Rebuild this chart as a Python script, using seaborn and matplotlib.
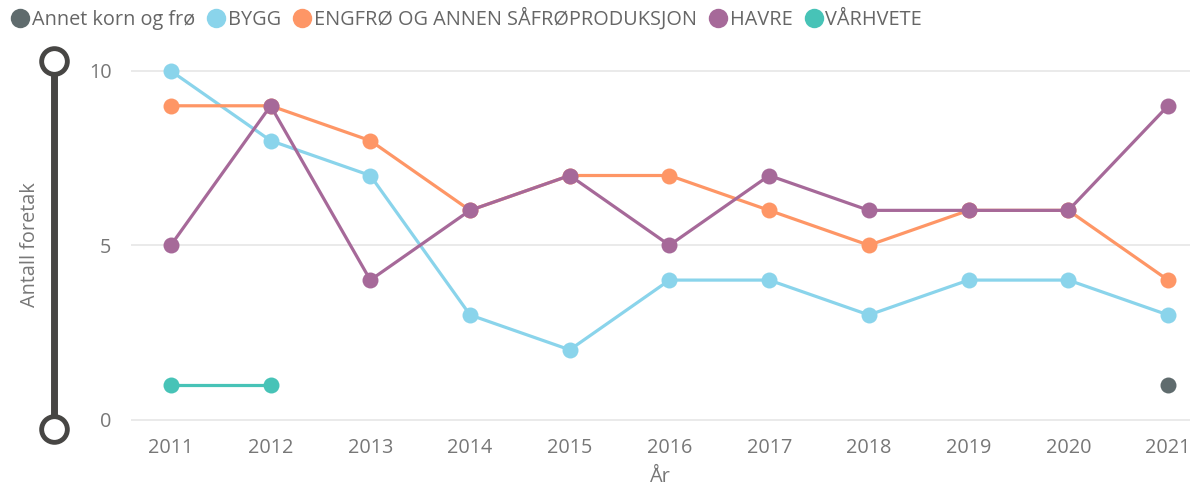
import pandas as pd
import matplotlib
matplotlib.use("Agg")
import matplotlib.pyplot as plt
from matplotlib.lines import Line2D
import seaborn as sns

years = [2011, 2012, 2013, 2014, 2015, 2016, 2017, 2018, 2019, 2020, 2021]
annet = {2021: 1}
bygg = [10, 8, 7, 3, 2, 4, 4, 3, 4, 4, 3]
engfro = [9, 9, 8, 6, 7, 7, 6, 5, 6, 6, 4]
havre = [5, 9, 4, 6, 7, 5, 7, 6, 6, 6, 9]
varhvete = {2011: 1, 2012: 1}

names = ["Annet korn og frø", "BYGG", "ENGFRØ OG ANNEN SÅFRØPRODUKSJON", "HAVRE", "VÅRHVETE"]
colors = ["#5F6B6D", "#8AD4EB", "#FE9666", "#A66999", "#47C3B7"]

rows = []
for y, v in annet.items():
    rows.append((names[0], y, v))
for y, v in zip(years, bygg):
    rows.append((names[1], y, v))
for y, v in zip(years, engfro):
    rows.append((names[2], y, v))
for y, v in zip(years, havre):
    rows.append((names[3], y, v))
for y, v in varhvete.items():
    rows.append((names[4], y, v))
df = pd.DataFrame(rows, columns=["serie", "aar", "antall"])

sns.set_style("white")
plt.rcParams['font.family'] = ['Open Sans', 'DejaVu Sans']
fs = 14.3

fig = plt.figure(figsize=(11.92, 4.91), dpi=100)
ax = fig.add_axes([131 / 1192, 1 - 430 / 491, 1059 / 1192, 380 / 491])

sns.lineplot(data=df, x="aar", y="antall", hue="serie", hue_order=names,
             palette=colors, marker="o", markersize=11.5, markeredgewidth=0,
             linewidth=2.3, legend=False, ax=ax)

ax.set_xlim(2010.6, 2021.22)
ax.set_ylim(-0.3, 10.6)
ax.set_xticks(years)
ax.set_yticks([0, 5, 10])
ax.yaxis.grid(True, color="#E6E6E6", linewidth=1.2)
ax.set_axisbelow(True)
for s in ax.spines.values():
    s.set_visible(False)
ax.tick_params(axis="both", length=0, labelsize=fs, colors="#777777")
ax.tick_params(axis="y", pad=14)
ax.tick_params(axis="x", pad=6)
ax.set_xlabel("År", fontsize=fs, color="#777777", labelpad=6)
ax.set_ylabel("")
fig.text(30 / 1192, 1 - 245 / 491, "Antall foretak", rotation=90, ha="center",
         va="center", fontsize=fs, color="#777777")

# zoom slider on the left
fx = 54 / 1192
slider = Line2D([fx, fx], [1 - 61 / 491, 1 - 429 / 491], transform=fig.transFigure,
                color="#474644", linewidth=5, solid_capstyle="butt")
fig.add_artist(slider)
for py in [61, 429]:
    fig.add_artist(Line2D([fx], [1 - py / 491], transform=fig.transFigure,
                          marker="o", markersize=18.5, markerfacecolor="white",
                          markeredgecolor="#474644", markeredgewidth=3.5))

handles = [Line2D([], [], marker="o", linestyle="", markersize=14,
                  markerfacecolor=c, markeredgewidth=0) for c in colors]
leg = fig.legend(handles, names, loc="center left", bbox_to_anchor=(0.003, 1 - 19 / 491),
                 ncol=5, frameon=False, fontsize=fs, handletextpad=0.05,
                 columnspacing=0.5, handlelength=1.1, borderaxespad=0, borderpad=0.3)
for t in leg.get_texts():
    t.set_color("#666666")

fig.savefig("out.png", dpi=100)
